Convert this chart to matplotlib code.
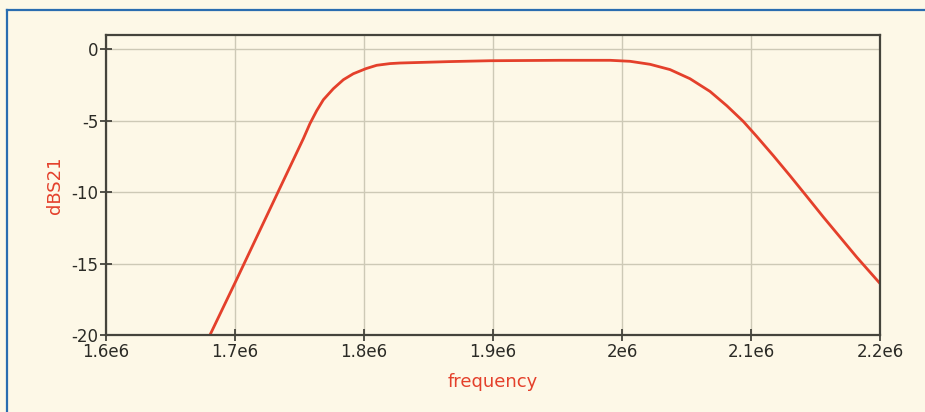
import matplotlib
matplotlib.use("Agg")
import matplotlib.pyplot as plt
from matplotlib.lines import Line2D

plt.rcParams["axes.unicode_minus"] = False

# S21 response of the band-pass filter (frequency in Hz, magnitude in dB)
freq = [1.6806e6, 1.7008e6, 1.7333e6, 1.7530e6, 1.7581e6, 1.7633e6, 1.7685e6,
        1.7762e6, 1.7840e6, 1.7917e6, 1.8016e6, 1.8098e6, 1.8202e6, 1.8279e6,
        1.8667e6, 1.8977e6, 1.9519e6, 1.9907e6, 2.0062e6, 2.0217e6, 2.0372e6,
        2.0527e6, 2.0682e6, 2.0812e6, 2.0940e6, 2.1044e6, 2.1173e6, 2.1302e6,
        2.1432e6, 2.1561e6, 2.1690e6, 2.1819e6, 2.2000e6]
dbs21 = [-20.0, -16.2, -10.0, -6.25, -5.2, -4.3, -3.53,
         -2.76, -2.13, -1.71, -1.35, -1.12, -1.0, -0.96,
         -0.86, -0.80, -0.77, -0.77, -0.84, -1.05, -1.42,
         -2.06, -2.95, -3.95, -5.05, -6.1, -7.45, -8.85,
         -10.3, -11.75, -13.15, -14.55, -16.4]

x_ticks = [1.6e6, 1.7e6, 1.8e6, 1.9e6, 2.0e6, 2.1e6, 2.2e6]
x_labels = ["1.6e6", "1.7e6", "1.8e6", "1.9e6", "2e6", "2.1e6", "2.2e6"]
y_ticks = [0, -5, -10, -15, -20]

bg = "#fdf8e7"
red = "#e4402b"
dark = "#45443c"

fig = plt.figure(figsize=(9.25, 4.12), dpi=100, facecolor=bg)
ax = fig.add_axes([0.1146, 0.187, 0.8368, 0.728])
ax.set_facecolor(bg)

ax.plot(freq, dbs21, color=red, lw=2.0, solid_joinstyle="round")

ax.set_xlim(1.6e6, 2.2e6)
ax.set_ylim(-20, 1)
ax.set_xticks(x_ticks)
ax.set_xticklabels(x_labels)
ax.set_yticks(y_ticks)
ax.grid(True, color="#cdc9b6", lw=1.0)
ax.set_axisbelow(True)

for s in ax.spines.values():
    s.set_color(dark)
    s.set_linewidth(1.6)

ax.tick_params(axis="both", direction="inout", length=9, width=1.3,
               color=dark, labelcolor="#2b2b26", labelsize=12)
ax.tick_params(axis="x", pad=1)
ax.tick_params(axis="y", pad=1)

ax.set_xlabel("frequency", color=red, fontsize=13, labelpad=9)
ax.set_ylabel("dBS21", color=red, fontsize=13, labelpad=5)

# blue frame along the top and left edges
fig.add_artist(Line2D([7 / 925, 1.0], [1 - 10 / 412, 1 - 10 / 412],
                      transform=fig.transFigure, color="#2a6db0", lw=1.6))
fig.add_artist(Line2D([7 / 925, 7 / 925], [0.0, 1 - 10 / 412],
                      transform=fig.transFigure, color="#2a6db0", lw=1.6))

fig.savefig("out.png", dpi=100, facecolor=bg)
